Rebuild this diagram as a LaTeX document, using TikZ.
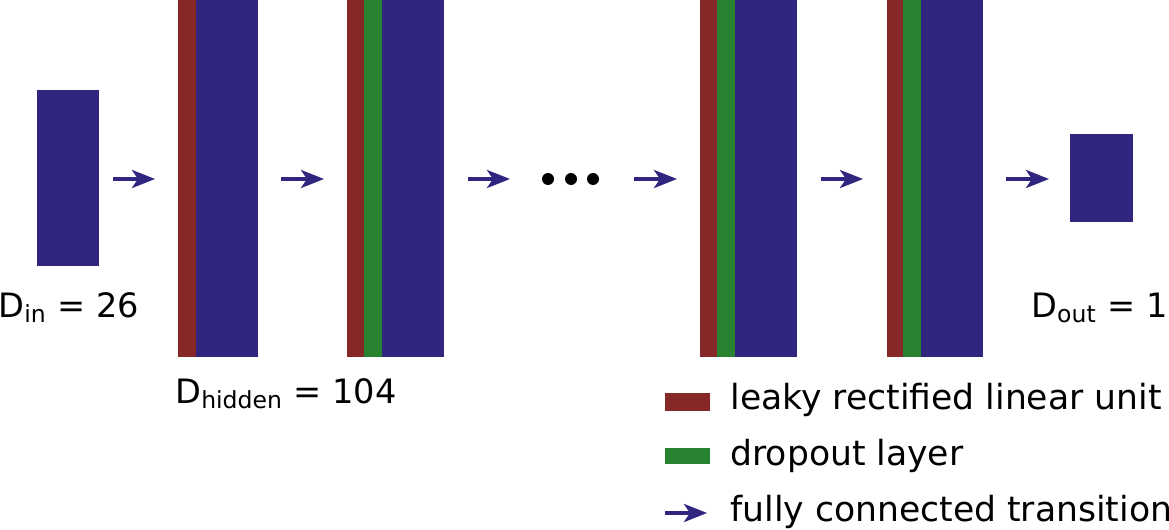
\documentclass[tikz,border=0pt]{standalone}
\usepackage{fontspec}
\setmainfont{DejaVu Sans}
\usetikzlibrary{arrows.meta}
\definecolor{lblue}{HTML}{30267F}
\definecolor{lred}{HTML}{862828}
\definecolor{lgreen}{HTML}{288330}
\tikzset{
  blk/.style={fill=lblue, draw=none},
  rblk/.style={fill=lred, draw=none},
  gblk/.style={fill=lgreen, draw=none},
  fc/.style={draw=lblue, line width=2pt, -{Stealth[length=11.5pt,width=9pt,inset=3pt]}},
  lbl/.style={inner sep=0pt, font=\fontsize{16.8}{20}\selectfont},
  leg/.style={inner sep=0pt, font=\fontsize{17.3}{21}\selectfont},
}
\begin{document}
\begin{tikzpicture}[x=0.5pt,y=-0.5pt]
\useasboundingbox (0,0) rectangle (1169,530);
% input
\fill[blk] (37,90) rectangle (99,266);
\coordinate (a1s) at (113,179); \coordinate (a1e) at (155,179);
\draw[fc] (a1s) -- (a1e);
% hidden 1
\fill[rblk] (178,0) rectangle (196,357);
\fill[blk] (196,0) rectangle (258,357);
\coordinate (a2s) at (281,179); \coordinate (a2e) at (324,179);
\draw[fc] (a2s) -- (a2e);
% hidden 2
\fill[rblk] (347,0) rectangle (364,357);
\fill[gblk] (364,0) rectangle (381.5,357);
\fill[blk] (381.5,0) rectangle (444,357);
\coordinate (a3s) at (468,179); \coordinate (a3e) at (510,179);
\draw[fc] (a3s) -- (a3e);
% dots
\fill (548,179) circle (6);
\fill (571,179) circle (6);
\fill (593,179) circle (6);
\coordinate (a4s) at (634,179); \coordinate (a4e) at (677,179);
\draw[fc] (a4s) -- (a4e);
% hidden 3
\fill[rblk] (700,0) rectangle (717,357);
\fill[gblk] (717,0) rectangle (734.5,357);
\fill[blk] (734.5,0) rectangle (797,357);
\coordinate (a5s) at (821,179); \coordinate (a5e) at (863,179);
\draw[fc] (a5s) -- (a5e);
% hidden 4
\fill[rblk] (887,0) rectangle (903,357);
\fill[gblk] (903,0) rectangle (920.5,357);
\fill[blk] (920.5,0) rectangle (983,357);
\coordinate (a6s) at (1006,179); \coordinate (a6e) at (1049,179);
\draw[fc] (a6s) -- (a6e);
% output
\fill[blk] (1070,134) rectangle (1133,222);
% labels
\node[lbl, anchor=base west] (din) at (-2,317) {D\textsubscript{in} = 26};
\node[lbl, anchor=base east] (dout) at (1168,317) {D\textsubscript{out} = 1};
\node[lbl, anchor=base west] (dhid) at (175,403) {D\textsubscript{hidden} = 104};
% legend
\fill[rblk] (665,393) rectangle (710,411);
\node[leg, anchor=base west] (l1) at (730,409) {leaky rectified linear unit};
\fill[gblk] (665,448) rectangle (710,464);
\node[leg, anchor=base west] (l2) at (730,465) {dropout layer};
\coordinate (a7s) at (665,513); \coordinate (a7e) at (707,513);
\draw[fc] (a7s) -- (a7e);
\node[leg, anchor=base west] (l3) at (730,521) {fully connected transition};
\end{tikzpicture}
\end{document}
